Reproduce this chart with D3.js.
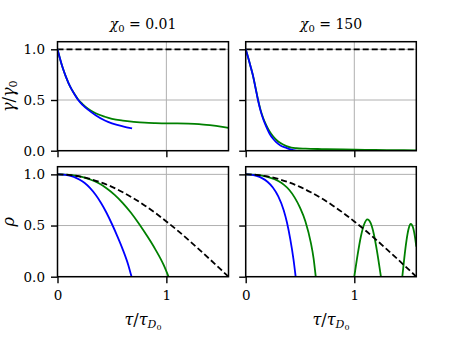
<!DOCTYPE html>
<html>
<head>
<meta charset="utf-8">
<script src="https://cdn.jsdelivr.net/npm/d3@7"></script>
<style>
html,body{margin:0;padding:0;background:#fff;}
</style>
</head>
<body>
<svg id="chart" width="463" height="346"></svg>
<script>
// ---------- data ----------
const xTicks = [0, 1];
const xTickLabels = ["0", "1"];
const yTicks = [0, 0.5, 1.0];
const yTickLabels = ["0.0", "0.5", "1.0"];
const chiValues = ["0.01", "150"];
const xMax = 1.5708;
const yMax = 1.075;

// gamma / gamma0 reference (dashed)
const gammaRef = [[0, 1], [1.5708, 1]];

// chi0 = 0.01 : gamma/gamma0
const gammaBlue001 = [[0,1],[0.025,0.9],[0.05,0.81],[0.075,0.735],[0.1,0.67],[0.13,0.605],[0.16,0.55],[0.19,0.5],[0.23,0.452],[0.28,0.405],[0.35,0.35],[0.435,0.298],[0.5,0.27],[0.6,0.24],[0.685,0.22]];
const gammaGreen001 = [[0,1],[0.025,0.9],[0.05,0.81],[0.075,0.735],[0.1,0.67],[0.13,0.605],[0.16,0.553],[0.19,0.505],[0.23,0.46],[0.28,0.415],[0.35,0.37],[0.435,0.335],[0.5,0.315],[0.6,0.297],[0.7,0.285],[0.8,0.276],[0.9,0.272],[1.0,0.27],[1.1,0.27],[1.2,0.268],[1.3,0.263],[1.4,0.252],[1.5,0.238],[1.5708,0.225]];

// chi0 = 150 : gamma/gamma0
const gammaBlue150 = [[0,1],[0.025,0.91],[0.05,0.81],[0.067,0.74],[0.09,0.62],[0.113,0.5],[0.135,0.4],[0.16,0.315],[0.19,0.235],[0.22,0.167],[0.25,0.12],[0.28,0.085],[0.32,0.052],[0.375,0.027],[0.42,0.01],[0.466,0.0]];
const gammaGreen150 = [[0,1],[0.025,0.91],[0.05,0.81],[0.067,0.74],[0.09,0.625],[0.113,0.505],[0.135,0.41],[0.16,0.325],[0.19,0.25],[0.22,0.19],[0.25,0.145],[0.28,0.11],[0.32,0.075],[0.375,0.045],[0.42,0.03],[0.466,0.024],[0.55,0.02],[0.7,0.016],[0.9,0.012],[1.1,0.009],[1.3,0.006],[1.5708,0.004]];

// rho reference (dashed), both panels
const rhoRef = [[0,1],[0.1,0.995],[0.2,0.98],[0.3,0.955],[0.4,0.921],[0.5,0.878],[0.6,0.825],[0.7,0.765],[0.8,0.697],[0.9,0.622],[1.0,0.54],[1.1,0.454],[1.2,0.362],[1.3,0.267],[1.4,0.17],[1.5,0.071],[1.5708,0.0]];

// chi0 = 0.01 : rho
const rhoBlue001 = [[0,1],[0.05,0.998],[0.1,0.99],[0.15,0.975],[0.2,0.95],[0.25,0.915],[0.3,0.865],[0.35,0.8],[0.4,0.72],[0.45,0.625],[0.5,0.515],[0.55,0.395],[0.6,0.265],[0.65,0.115],[0.68,0.0]];
const rhoGreen001 = [[0,1],[0.075,0.998],[0.15,0.99],[0.225,0.975],[0.3,0.95],[0.375,0.915],[0.45,0.865],[0.525,0.8],[0.6,0.72],[0.675,0.625],[0.75,0.515],[0.825,0.395],[0.9,0.265],[0.975,0.115],[1.02,0.0]];

// chi0 = 150 : rho  (null marks a gap where the curve is below 0)
const rhoBlue150 = [[0,1],[0.05,0.998],[0.1,0.985],[0.15,0.963],[0.2,0.928],[0.25,0.872],[0.3,0.785],[0.35,0.65],[0.38,0.53],[0.41,0.37],[0.44,0.17],[0.46,0.0]];
const rhoGreen150 = [[0,1],[0.1,0.995],[0.2,0.975],[0.3,0.935],[0.35,0.9],[0.4,0.85],[0.45,0.775],[0.5,0.675],[0.55,0.54],[0.6,0.33],[0.625,0.18],[0.645,0.0],[0.8,null],
  [1.0,0.0],[1.03,0.21],[1.06,0.39],[1.09,0.51],[1.12,0.56],[1.15,0.525],[1.18,0.415],[1.21,0.243],[1.245,0.0],[1.35,null],
  [1.442,0.0],[1.46,0.18],[1.48,0.35],[1.5,0.468],[1.52,0.515],[1.54,0.483],[1.56,0.378],[1.5708,0.295]];

// ---------- layout ----------
const FONT = "DejaVu Serif";
const svg = d3.select("#chart");
const colX = [[57.5, 228.5], [245.7, 416.3]];
const rowY = [[41.7, 150.7], [166.7, 276.7]];
const BLUE = "#0000ff", GREEN = "#008000";

const panels = [
  {r:0, c:0, series:[{d:gammaRef, col:"#000", dash:true},{d:gammaGreen001,col:GREEN},{d:gammaBlue001,col:BLUE}]},
  {r:0, c:1, series:[{d:gammaRef, col:"#000", dash:true},{d:gammaGreen150,col:GREEN},{d:gammaBlue150,col:BLUE}]},
  {r:1, c:0, series:[{d:rhoGreen001,col:GREEN},{d:rhoBlue001,col:BLUE},{d:rhoRef, col:"#000", dash:true}]},
  {r:1, c:1, series:[{d:rhoGreen150,col:GREEN},{d:rhoBlue150,col:BLUE},{d:rhoRef, col:"#000", dash:true}]}
];

panels.forEach((p, i) => {
  const x = d3.scaleLinear().domain([0, xMax]).range(colX[p.c]);
  const y = d3.scaleLinear().domain([0, yMax]).range([rowY[p.r][1], rowY[p.r][0]]);
  const g = svg.append("g");
  const clipId = "clip" + i;
  g.append("clipPath").attr("id", clipId).append("rect")
    .attr("x", colX[p.c][0]).attr("y", rowY[p.r][0] - 1)
    .attr("width", colX[p.c][1] - colX[p.c][0]).attr("height", rowY[p.r][1] - rowY[p.r][0] + 1);

  // grid
  const grid = g.append("g");
  xTicks.forEach(t => grid.append("line").attr("x1", x(t)).attr("x2", x(t))
    .attr("y1", rowY[p.r][0]).attr("y2", rowY[p.r][1]).attr("stroke", "#b0b0b0").attr("stroke-width", 1));
  yTicks.forEach(t => grid.append("line").attr("y1", y(t)).attr("y2", y(t))
    .attr("x1", colX[p.c][0]).attr("x2", colX[p.c][1]).attr("stroke", "#b0b0b0").attr("stroke-width", 1));

  // curves
  const line = d3.line().defined(d => d[1] !== null).x(d => x(d[0])).y(d => y(d[1])).curve(d3.curveMonotoneX);
  const cg = g.append("g").attr("clip-path", `url(#${clipId})`);
  p.series.forEach(s => {
    cg.append("path").datum(s.d).attr("d", line).attr("fill", "none")
      .attr("stroke", s.col).attr("stroke-width", 1.8)
      .attr("stroke-dasharray", s.dash ? "6,3" : null);
  });

  // axes
  const xAxis = d3.axisBottom(x).tickValues(xTicks).tickSize(6.5).tickPadding(7)
    .tickFormat((d, k) => p.r === 1 ? xTickLabels[k] : "");
  const ax = g.append("g").attr("transform", `translate(0,${rowY[p.r][1]})`).call(xAxis);
  const yAxis = d3.axisLeft(y).tickValues(yTicks).tickSize(6.5).tickPadding(6)
    .tickFormat((d, k) => p.c === 0 ? yTickLabels[k] : "");
  const ay = g.append("g").attr("transform", `translate(${colX[p.c][0]},0)`).call(yAxis);
  [ax, ay].forEach(a => {
    a.attr("font-family", FONT).attr("font-size", 13.5);
    a.select(".domain").remove();
    a.selectAll(".tick line").attr("stroke", "#000").attr("stroke-width", 1.4);
    a.selectAll(".tick text").attr("fill", "#000");
  });

  // frame
  g.append("rect").attr("x", colX[p.c][0]).attr("y", rowY[p.r][0])
    .attr("width", colX[p.c][1] - colX[p.c][0]).attr("height", rowY[p.r][1] - rowY[p.r][0])
    .attr("fill", "none").attr("stroke", "#000").attr("stroke-width", 1.5);
});

// titles
chiValues.forEach((v, c) => {
  const cx = (colX[c][0] + colX[c][1]) / 2;
  const t = svg.append("text").attr("x", cx).attr("y", 29).attr("text-anchor", "middle")
    .attr("font-family", FONT).attr("font-size", 14);
  t.append("tspan").attr("font-style", "italic").text("χ");
  t.append("tspan").attr("font-size", 10).attr("dy", 3).text("0");
  t.append("tspan").attr("dy", -3).text(" = " + v);
});

// y labels
function ylab(cy, build) {
  const t = svg.append("text").attr("transform", `translate(14,${cy}) rotate(-90)`)
    .attr("text-anchor", "middle").attr("font-family", FONT).attr("font-size", 16);
  build(t);
}
ylab((rowY[0][0] + rowY[0][1]) / 2, t => {
  t.append("tspan").attr("font-style", "italic").text("γ");
  t.append("tspan").text("/");
  t.append("tspan").attr("font-style", "italic").text("γ");
  t.append("tspan").attr("font-size", 11).attr("dy", 3).text("0");
});
ylab((rowY[1][0] + rowY[1][1]) / 2, t => {
  t.append("tspan").attr("font-style", "italic").text("ρ");
});

// x labels
colX.forEach(cx => {
  const t = svg.append("text").attr("x", (cx[0] + cx[1]) / 2).attr("y", 325)
    .attr("text-anchor", "middle").attr("font-family", FONT).attr("font-size", 16);
  t.append("tspan").attr("font-style", "italic").text("τ");
  t.append("tspan").text("/");
  t.append("tspan").attr("font-style", "italic").text("τ");
  t.append("tspan").attr("font-style", "italic").attr("font-size", 11).attr("dy", 3).text("D");
  t.append("tspan").attr("font-size", 8).attr("dy", 2).text("0");
});
</script>
</body>
</html>
